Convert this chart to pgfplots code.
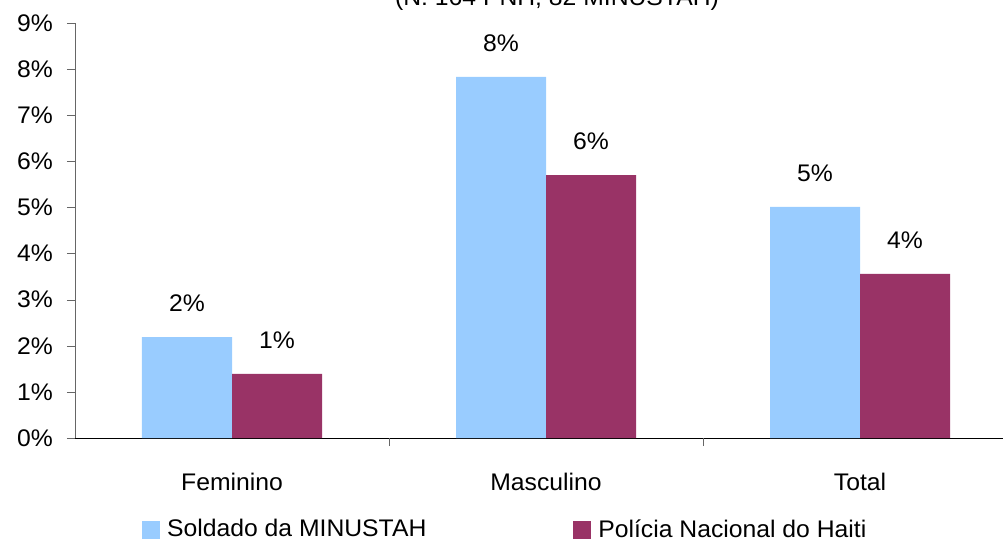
\documentclass[border=0pt]{standalone}
\usepackage{fontspec}
\setmainfont{Liberation Sans}[FakeStretch=1.03]
\usepackage{pgfplots}
\pgfplotsset{compat=1.18}
\definecolor{cblue}{HTML}{99CCFF}
\definecolor{cmaroon}{HTML}{993366}
\begin{document}
\fontsize{24bp}{28bp}\selectfont
\begin{tikzpicture}
\begin{axis}[
  name=ax,
  scale only axis,
  width=942bp, height=415bp,
  xmin=0, xmax=3, ymin=0, ymax=9,
  ybar=0pt, bar width=90bp,
  axis x line*=bottom, axis y line*=left,
  y axis line style={gray!80!black},
  x axis line style={black},
  tick align=outside,
  ytick={0,1,2,3,4,5,6,7,8,9},
  yticklabels={0\%,1\%,2\%,3\%,4\%,5\%,6\%,7\%,8\%,9\%},
  major tick length=8bp,
  ytick style={gray!80!black},
  yticklabel style={inner sep=0pt, xshift=-14bp},
  xtick={0.5,1.5,2.5},
  xticklabels={Feminino,Masculino,Total},
  xtick style={draw=none},
  xticklabel style={inner sep=0pt, yshift=-27bp},
  extra x ticks={1,2},
  extra x tick labels={},
  extra x tick style={xtick style={draw=gray!80!black}},
  point meta=explicit symbolic,
  nodes near coords,
  every node near coord/.append style={anchor=south, inner sep=0pt, yshift=25bp},
  legend columns=2,
  legend style={draw=none, fill=none, at={(rel axis cs:0.0711,-0.2217)}, anchor=west,
    inner sep=0pt, nodes={inner sep=0pt},
    /tikz/every odd column/.append style={column sep=7bp},
    /tikz/every even column/.append style={column sep=147bp}},
  legend image code/.code={\fill[#1] (0bp,-9bp) rectangle (18bp,9bp);},
]
\addplot[fill=cblue, draw=none] coordinates {(0.5,2.19) [2\%] (1.5,7.83) [8\%] (2.5,5.01) [5\%]};
\addplot[fill=cmaroon, draw=none] coordinates {(0.5,1.39) [1\%] (1.5,5.70) [6\%] (2.5,3.56) [4\%]};
\legend{Soldado da MINUSTAH, Polícia Nacional do Haiti}
\end{axis}
\node[anchor=base] at ([xshift=482bp, yshift=432bp]ax.south west) {(N: 164 PNH; 82 MINUSTAH)};
\pgfresetboundingbox
\path ([xshift=-75bp, yshift=-104bp]ax.south west) rectangle ++(1003bp,542bp);
\end{tikzpicture}
\end{document}
